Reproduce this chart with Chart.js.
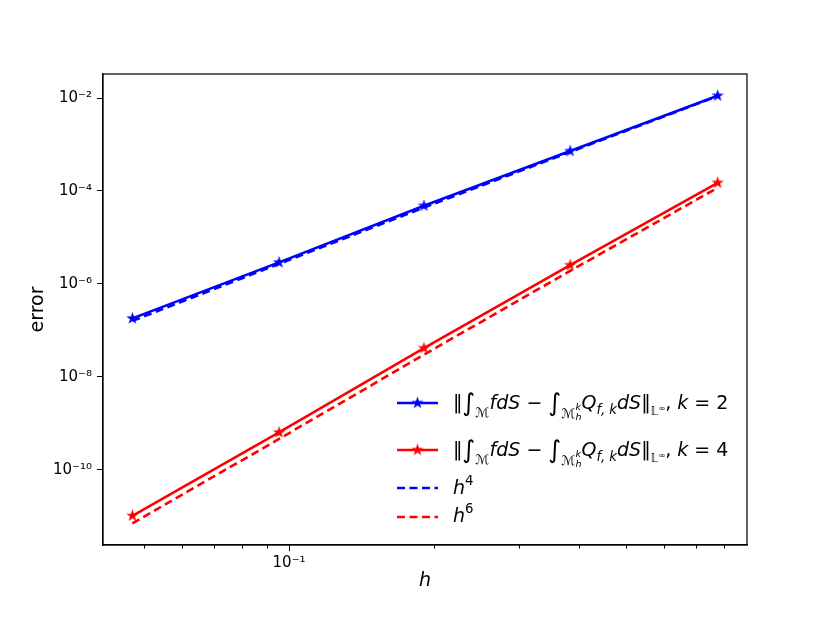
<!DOCTYPE html>
<html>
<head>
<meta charset="utf-8">
<script src="https://cdn.jsdelivr.net/npm/chart.js"></script>
<style>
  body { margin: 0; background: #fff; }
</style>
</head>
<body>
<canvas id="chart" width="830" height="623"></canvas>
<script>
  // mesh size h and the errors
  const hVals = [0.0473, 0.0953, 0.1905, 0.383, 0.775];
  const errK2 = [1.81e-7, 2.90e-6, 4.80e-5, 7.23e-4, 1.12e-2];
  const errK4 = [1.02e-11, 6.35e-10, 4.15e-8, 2.54e-6, 1.50e-4];
  const refH4 = [1.6e-7, 2.7e-6, 4.4e-5, 6.9e-4, 1.1e-2];
  const refH6 = [7.0e-12, 4.6e-10, 3.0e-8, 1.9e-6, 1.17e-4];

  const yTicks = [1e-2, 1e-4, 1e-6, 1e-8, 1e-10];
  const yTickLabels = ['10⁻²', '10⁻⁴', '10⁻⁶', '10⁻⁸', '10⁻¹⁰'];
  const xTicks = [0.05, 0.06, 0.07, 0.08, 0.09, 0.1, 0.2, 0.3, 0.4, 0.5, 0.6, 0.7, 0.8];
  const xTickLabels = ['', '', '', '', '', '10⁻¹', '', '', '', '', '', '', ''];

  const BLUE = '#0000ff';
  const RED = '#ff0000';
  const FONT = '"DejaVu Sans", sans-serif';

  function makeStar(color) {
    const c = document.createElement('canvas');
    c.width = 15; c.height = 15;
    const g = c.getContext('2d');
    g.fillStyle = color;
    g.beginPath();
    for (let i = 0; i < 10; i++) {
      const r = i % 2 ? 2.6 : 6.5;
      const a = -Math.PI / 2 + i * Math.PI / 5;
      g.lineTo(7.5 + r * Math.cos(a), 7.5 + r * Math.sin(a));
    }
    g.closePath();
    g.fill();
    return c;
  }
  const starBlue = makeStar(BLUE);
  const starRed = makeStar(RED);

  const pts = (ys) => hVals.map((h, i) => ({ x: h, y: ys[i] }));

  // legend math text, drawn piece by piece
  const MF = 19;
  function drawMath(ctx, x, y, parts) {
    for (const [t, st, sc, dy, noAdv] of parts) {
      ctx.font = (st === 'i' ? 'italic ' : '') + (MF * sc) + 'px ' + FONT;
      ctx.fillText(t, x, y + dy * MF);
      if (!noAdv) x += ctx.measureText(t).width;
    }
    return x;
  }
  function normParts(k) {
    return [
      ['‖', 'r', 1, 0], ['∫', 'r', 1.3, 0.12], ['ℳ', 'r', 0.7, 0.4],
      ['fdS', 'i', 1, 0], [' − ', 'r', 1, 0],
      ['∫', 'r', 1.3, 0.12], ['ℳ', 'r', 0.7, 0.45],
      ['k', 'i', 0.5, 0.05, true], ['h', 'i', 0.5, 0.6],
      ['Q', 'i', 1, 0], ['f, k', 'i', 0.7, 0.25], ['dS', 'i', 1, 0],
      ['‖', 'r', 1, 0], ['𝕃', 'r', 0.6, 0.3], ['∞', 'r', 0.45, 0.1],
      [', ', 'r', 1, 0], ['k', 'i', 1, 0], [' = ' + k, 'r', 1, 0]
    ];
  }

  const legendItems = [
    { color: BLUE, dash: [], star: starBlue, y: 403, base: 409, parts: normParts(2) },
    { color: RED, dash: [], star: starRed, y: 450, base: 456, parts: normParts(4) },
    { color: BLUE, dash: [8, 4.5], star: null, y: 488, base: 494, parts: [['h', 'i', 1, 0], ['4', 'r', 0.7, -0.45]] },
    { color: RED, dash: [8, 4.5], star: null, y: 517, base: 522, parts: [['h', 'i', 1, 0], ['6', 'r', 0.7, -0.45]] }
  ];

  const framePlugin = {
    id: 'frame',
    afterDraw(chart) {
      const ctx = chart.ctx;
      const a = chart.chartArea;
      const xs = chart.scales.x;
      ctx.save();
      // minor ticks on x
      ctx.strokeStyle = '#000';
      ctx.lineWidth = 1;
      xTicks.forEach((v, i) => {
        if (xTickLabels[i]) return;
        const px = Math.round(xs.getPixelForValue(v)) + 0.5;
        ctx.beginPath();
        ctx.moveTo(px, a.bottom);
        ctx.lineTo(px, a.bottom + 3.5);
        ctx.stroke();
      });
      // axes box
      ctx.lineWidth = 1.2;
      ctx.strokeRect(a.left, a.top, a.right - a.left, a.bottom - a.top);
      // legend
      ctx.textBaseline = 'alphabetic';
      ctx.textAlign = 'left';
      for (const it of legendItems) {
        ctx.strokeStyle = it.color;
        ctx.lineWidth = 2.6;
        ctx.setLineDash(it.dash);
        ctx.beginPath();
        ctx.moveTo(397, it.y);
        ctx.lineTo(438, it.y);
        ctx.stroke();
        ctx.setLineDash([]);
        if (it.star) ctx.drawImage(it.star, 417.5 - 7.5, it.y - 7.5);
        ctx.fillStyle = '#000';
        drawMath(ctx, 453, it.base, it.parts);
      }
      ctx.restore();
    }
  };

  new Chart(document.getElementById('chart'), {
    type: 'line',
    data: {
      datasets: [
        { data: pts(errK2), borderColor: BLUE, backgroundColor: BLUE, borderWidth: 2.6,
          pointStyle: starBlue, pointRadius: 6, order: 2 },
        { data: pts(errK4), borderColor: RED, backgroundColor: RED, borderWidth: 2.6,
          pointStyle: starRed, pointRadius: 6, order: 2 },
        { data: pts(refH4), borderColor: BLUE, borderWidth: 2.6, borderDash: [8, 4.5],
          pointRadius: 0, order: 1 },
        { data: pts(refH6), borderColor: RED, borderWidth: 2.6, borderDash: [8, 4.5],
          pointRadius: 0, order: 1 }
      ]
    },
    options: {
      responsive: false,
      animation: false,
      parsing: false,
      layout: { padding: { top: 74, right: 83, left: 0, bottom: 0 } },
      elements: { line: { tension: 0, fill: false } },
      plugins: { legend: { display: false }, tooltip: { enabled: false } },
      scales: {
        x: {
          type: 'logarithmic',
          min: 0.0411,
          max: 0.8917,
          afterBuildTicks: (s) => { s.ticks = xTicks.map(v => ({ value: v })); },
          afterFit: (s) => { s.height = 78; },
          ticks: {
            autoSkip: false, maxRotation: 0, padding: 3, color: '#000',
            font: { family: FONT, size: 15 },
            callback: (v, i) => xTickLabels[i]
          },
          grid: {
            drawOnChartArea: false, tickLength: 6, tickWidth: 1,
            tickColor: (c) => xTickLabels[c.index] ? '#000' : 'rgba(0,0,0,0)'
          },
          border: { color: '#000', width: 1.2 },
          title: {
            display: true, text: 'h', color: '#000',
            font: { family: FONT, size: 19, style: 'italic' },
            padding: { top: 0, bottom: 31 }
          }
        },
        y: {
          type: 'logarithmic',
          min: 2.4e-12,
          max: 3.29e-2,
          afterBuildTicks: (s) => { s.ticks = yTicks.map(v => ({ value: v })); },
          afterFit: (s) => { s.width = 103; },
          ticks: {
            autoSkip: false, padding: 5, color: '#000',
            font: { family: FONT, size: 15 },
            callback: (v, i) => yTickLabels[i]
          },
          grid: { drawOnChartArea: false, tickLength: 6, tickWidth: 1, tickColor: '#000' },
          border: { color: '#000', width: 1.2 },
          title: {
            display: true, text: 'error', color: '#000',
            font: { family: FONT, size: 19 },
            padding: { top: 27, bottom: 0 }
          }
        }
      }
    },
    plugins: [framePlugin]
  });
</script>
</body>
</html>
